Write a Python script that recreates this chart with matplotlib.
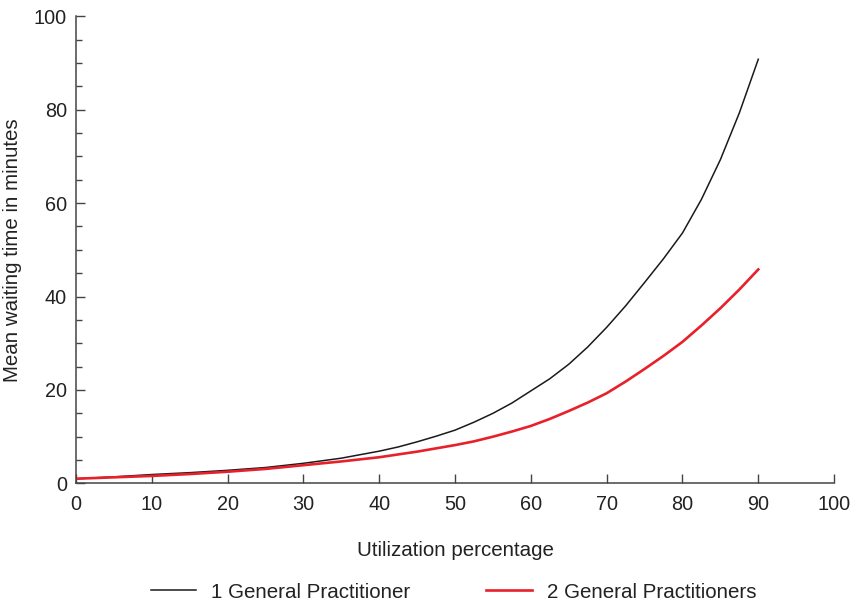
import matplotlib
matplotlib.use("Agg")
import matplotlib.pyplot as plt
from matplotlib.ticker import MultipleLocator

plt.rcParams['font.family'] = ['Liberation Sans', 'DejaVu Sans']

# values
utilization = [0, 5, 10, 15, 20, 25, 30, 35, 40, 42.5, 45, 47.5, 50, 52.5, 55,
               57.5, 60, 62.5, 65, 67.5, 70, 72.5, 75, 77.5, 80, 82.5, 85,
               87.5, 90]
wait_one_gp = [1.0, 1.4, 1.9, 2.3, 2.8, 3.4, 4.3, 5.4, 6.9, 7.8, 8.9, 10.1,
               11.4, 13.1, 15.0, 17.2, 19.8, 22.4, 25.5, 29.2, 33.4, 38.0,
               43.0, 48.1, 53.6, 60.8, 69.3, 79.3, 90.8]
wait_two_gp = [1.0, 1.3, 1.6, 2.0, 2.5, 3.1, 3.9, 4.7, 5.6, 6.2, 6.8, 7.5,
               8.2, 9.0, 10.0, 11.1, 12.3, 13.8, 15.5, 17.3, 19.3, 21.8,
               24.5, 27.3, 30.3, 33.8, 37.5, 41.5, 45.8]
labels = ["1 General Practitioner", "2 General Practitioners"]

fig = plt.figure(figsize=(8.5, 6.02), dpi=100)
ax = fig.add_axes([0.0893, 0.197, 0.892, 0.776])

ax.plot(utilization, wait_one_gp, color="#1a1a1a", lw=1.1, label=labels[0])
ax.plot(utilization, wait_two_gp, color="#e8202a", lw=1.9, label=labels[1])

ax.set_xlim(0, 100)
ax.set_ylim(0, 100)
ax.xaxis.set_major_locator(MultipleLocator(10))
ax.yaxis.set_major_locator(MultipleLocator(20))
ax.yaxis.set_minor_locator(MultipleLocator(5))

for side in ["top", "right"]:
    ax.spines[side].set_visible(False)
for side in ["left", "bottom"]:
    ax.spines[side].set_color("#444444")
    ax.spines[side].set_linewidth(1.1)

ax.tick_params(which="major", direction="in", length=6.5, width=1.0,
               color="#444444", labelsize=14.3, labelcolor="#222222")
ax.tick_params(which="minor", direction="in", length=4.3, width=1.0,
               color="#444444")
ax.tick_params(axis="y", which="major", pad=6.5)
ax.tick_params(axis="x", which="major", pad=8)

ax.set_xlabel("Utilization percentage", fontsize=14.8, color="#222222", va="center")
ax.set_ylabel("Mean waiting time in minutes", fontsize=14.8, color="#222222", va="center")
ax.xaxis.set_label_coords(0.5, -0.143)
ax.yaxis.set_label_coords(-0.083, 0.5)

fig.legend(loc="center", bbox_to_anchor=(0.5335, 0.0166), ncol=2, frameon=False,
           fontsize=14.8, handlelength=2.2, handletextpad=0.73,
           columnspacing=3.7, labelcolor="#222222")

fig.savefig("out.png", dpi=100)
